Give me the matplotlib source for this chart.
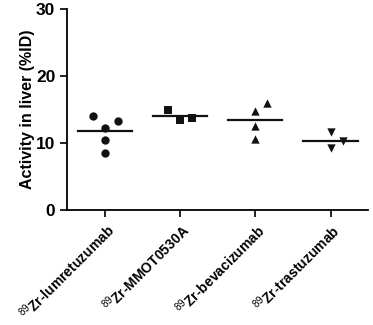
import numpy as np
import matplotlib
matplotlib.use("Agg")
import matplotlib.pyplot as plt

plt.rcParams["font.family"] = ["Liberation Sans", "DejaVu Sans"]
plt.rcParams["mathtext.fontset"] = "custom"
plt.rcParams["mathtext.rm"] = "Liberation Sans"
plt.rcParams["mathtext.it"] = "Liberation Sans:italic"
plt.rcParams["mathtext.bf"] = "Liberation Sans:bold"

GROUPS = [
    r"$^{89}$Zr-lumretuzumab",
    r"$^{89}$Zr-MMOT0530A",
    r"$^{89}$Zr-bevacizumab",
    r"$^{89}$Zr-trastuzumab",
]
MARKERS = ["o", "s", "^", "v"]

lumretuzumab = [14.0, 12.3, 13.3, 10.5, 8.5]
lumretuzumab_dx = [-0.15, 0.0, 0.17, 0.0, 0.0]
mmot0530a = [14.9, 13.5, 13.8]
mmot0530a_dx = [-0.16, 0.0, 0.155]
bevacizumab = [14.8, 15.9, 12.5, 10.6]
bevacizumab_dx = [0.0, 0.16, 0.0, 0.0]
trastuzumab = [11.6, 10.3, 9.2]
trastuzumab_dx = [0.0, 0.16, 0.0]

values = [lumretuzumab, mmot0530a, bevacizumab, trastuzumab]
offsets = [lumretuzumab_dx, mmot0530a_dx, bevacizumab_dx, trastuzumab_dx]

fig = plt.figure(figsize=(3.73, 3.25), dpi=100)
ax = fig.add_axes([0.18, 0.354, 0.807, 0.618])

for i, (vals, dx, mk) in enumerate(zip(values, offsets, MARKERS)):
    xs = i + np.array(dx)
    ax.scatter(xs, vals, marker=mk, s=36, color="#111111", zorder=3, linewidths=0)
    m = np.mean(vals)
    ax.plot([i - 0.36, i + 0.36], [m, m], color="#111111", lw=1.6, zorder=2)

ax.set_xlim(-0.5, 3.5)
ax.set_ylim(0, 30)
ax.set_yticks([0, 10, 20, 30])
ax.set_xticks(range(len(GROUPS)))
ax.set_xticklabels(GROUPS, rotation=45, ha="right", rotation_mode="anchor",
                   fontsize=10, fontweight="bold")
ax.tick_params(axis="x", pad=3)
ax.set_ylabel("Activity in liver (%ID)", fontsize=11.5, fontweight="bold",
              labelpad=1)

for lbl in ax.get_yticklabels():
    lbl.set_fontweight("bold")
    lbl.set_fontsize(12.5)

for side in ["top", "right"]:
    ax.spines[side].set_visible(False)
for side in ["left", "bottom"]:
    ax.spines[side].set_linewidth(1.3)
ax.tick_params(width=1.3, length=5, color="#111111")

fig.savefig("out.png", dpi=100)
